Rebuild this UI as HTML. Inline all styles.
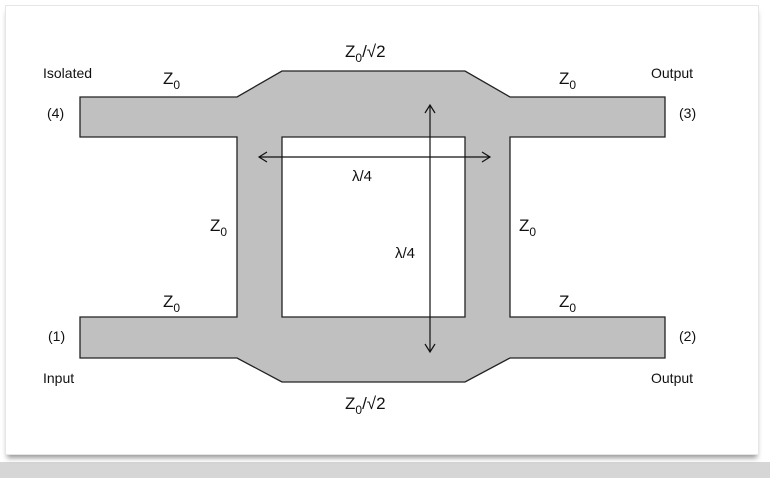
<!DOCTYPE html>
<html><head><style>
body{margin:0;width:770px;height:478px;background:#fff;overflow:hidden;position:relative;font-family:"Liberation Sans",sans-serif}
.band{position:absolute;left:0;top:462px;width:770px;height:16px;background:#d6d6d6}
.card{position:absolute;left:5px;top:5px;width:752px;height:448px;background:#fff;border:1px solid #e6e6e6;box-shadow:0 5px 5px -2px #999}
</style></head><body>
<div class="band"></div>
<div class="card"></div>
<svg width="770" height="478" style="position:absolute;left:0;top:0" font-family="Liberation Sans, sans-serif" font-size="15" fill="#111">
<path d="M80,97 H237 L282,71 H465 L510,97 H665 V137 H510 V317 H665 V358 H510 L465,382 H282 L237,358 H80 V317 H237 V137 H80 Z M282,137 V317 H465 V137 Z" fill="#c0c0c0" stroke="#222" stroke-width="1.3" fill-rule="evenodd"/>
<g stroke="#111" stroke-width="1.2" fill="none">
<line x1="259" y1="157" x2="490" y2="157"/>
<polyline points="267,152 259,157 267,162"/>
<polyline points="482,152 490,157 482,162"/>
<line x1="430" y1="105" x2="430" y2="352"/>
<polyline points="425,113 430,105 435,113"/>
<polyline points="425,344 430,352 435,344"/>
</g>
<text x="43" y="78" font-size="14">Isolated</text>
<text x="47" y="118" font-size="14">(4)</text>
<text x="48" y="341" font-size="14">(1)</text>
<text x="43" y="383" font-size="14">Input</text>
<text x="651" y="78" font-size="14">Output</text>
<text x="679" y="118" font-size="14">(3)</text>
<text x="679" y="341" font-size="14">(2)</text>
<text x="651" y="383" font-size="14">Output</text>
<text x="163" y="84" font-size="17">Z<tspan font-size="12" dy="5">0</tspan></text>
<text x="559" y="84" font-size="17">Z<tspan font-size="12" dy="5">0</tspan></text>
<text x="163" y="307" font-size="17">Z<tspan font-size="12" dy="5">0</tspan></text>
<text x="559" y="307" font-size="17">Z<tspan font-size="12" dy="5">0</tspan></text>
<text x="210" y="231" font-size="17">Z<tspan font-size="12" dy="5">0</tspan></text>
<text x="519" y="231" font-size="17">Z<tspan font-size="12" dy="5">0</tspan></text>
<text x="345" y="57" font-size="17">Z<tspan font-size="12" dy="5">0</tspan><tspan dy="-5">/√2</tspan></text>
<text x="345" y="409" font-size="17">Z<tspan font-size="12" dy="5">0</tspan><tspan dy="-5">/√2</tspan></text>
<text x="352" y="181" font-size="15">λ/4</text>
<text x="395" y="258" font-size="15">λ/4</text>
</svg>
</body></html>
